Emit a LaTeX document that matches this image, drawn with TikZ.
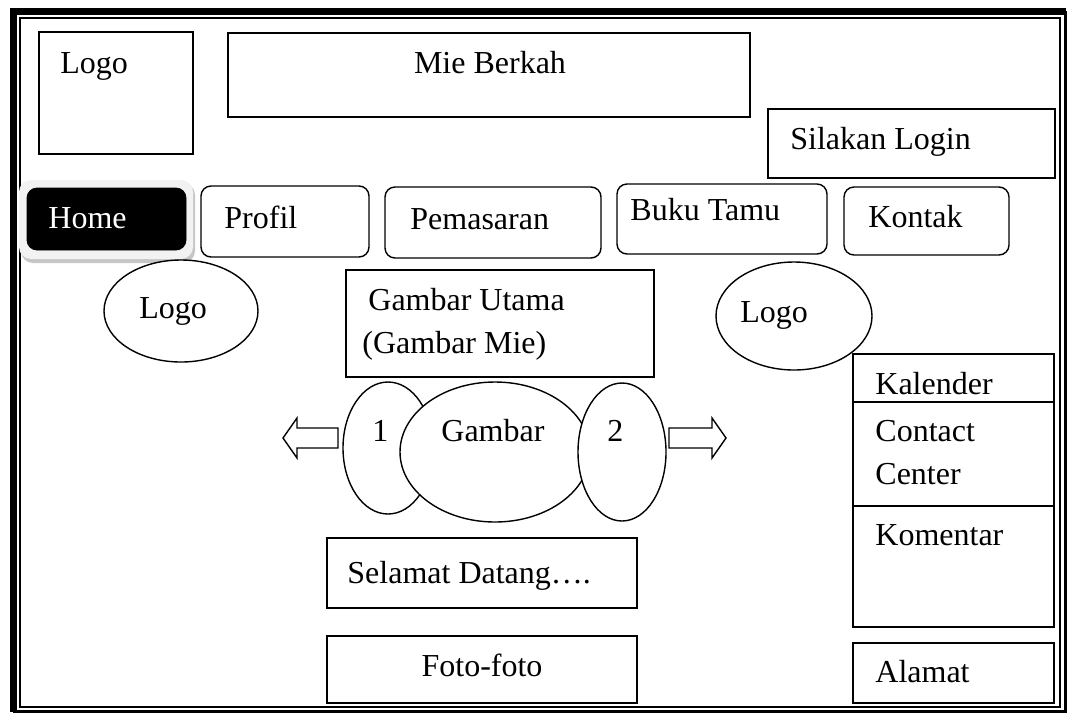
\documentclass[tikz,border=0pt]{standalone}
\usepackage{fontspec}
\setmainfont{Liberation Serif}
\begin{document}
\begin{tikzpicture}[x=0.5pt,y=-0.5pt,
  box/.style={draw, fill=white, line width=0.7pt},
  navbox/.style={draw, fill=white, line width=0.7pt, rounded corners=5pt},
  txt/.style={anchor=base west, inner sep=0pt, font=\fontsize{16}{21}\selectfont},
  ctxt/.style={txt, anchor=base}]

\useasboundingbox (0,0) rectangle (1069,713);

% page frame
\draw [line width=0.75pt] (20,18) rectangle (1060,707);
\draw [line width=1.5pt] (1065,11) -- (1065,711) -- (13,711);
\draw [line width=3.5pt] (13,712) -- (13,11.5) -- (1066,11.5);

% header
\draw [box] (39,32) rectangle (193,154);
\draw [box] (228,33) rectangle (750,117);
\draw [box] (768,109) rectangle (1055,178);
\draw (60,73) node [txt] (logoA) {Logo};
\draw (490,73) node [ctxt] (title) {Mie Berkah};
\draw (790,149) node [txt] (login) {Silakan Login};

% menu
\draw [rounded corners=6pt, fill=gray!45, draw=none] (21,183) rectangle (195,263);
\draw [rounded corners=6pt, fill=gray!10, draw=none] (19,180) rectangle (193,259);
\draw [rounded corners=5pt, fill=black] (27,188) rectangle (186,250);
\draw [navbox] (201,186) rectangle (369,257);
\draw [navbox] (385,187) rectangle (601,258);
\draw [navbox] (617,184) rectangle (827,254);
\draw [navbox] (844,187) rectangle (1009,255);
\draw (48,228) node [txt, text=white] (home) {Home};
\draw (224,228) node [txt] (profil) {Profil};
\draw (410,229) node [txt] (pemasaran) {Pemasaran};
\draw (630,220) node [txt] (bukutamu) {Buku Tamu};
\draw (868,227) node [txt] (kontak) {Kontak};

% logos and main picture
\draw [box] (181,311) ellipse [x radius=38.5pt, y radius=25.5pt];
\draw [box] (794,316) ellipse [x radius=39pt, y radius=27pt];
\draw [box] (346,270) rectangle (654,377);
\draw (139,318) node [txt] (logoB) {Logo};
\draw (740,322) node [txt] (logoC) {Logo};
\draw (368,310) node [txt] (utamaA) {Gambar Utama};
\draw (362,353) node [txt] (utamaB) {(Gambar Mie)};

% slider
\draw [box] (388,448) ellipse [x radius=22.5pt, y radius=33pt];
\draw [box] (495,452) ellipse [x radius=47.5pt, y radius=35pt];
\draw [box] (622,452) ellipse [x radius=22pt, y radius=34.5pt];
\draw [box] (338,428) -- (297,428) -- (297,418) -- (283,438) -- (297,458) -- (297,448) -- (338,448) -- cycle;
\draw [box] (669,428) -- (712,428) -- (712,418) -- (726,438) -- (712,458) -- (712,448) -- (669,448) -- cycle;
\draw (372,441) node [txt] (satu) {1};
\draw (441,441) node [txt] (gambar) {Gambar};
\draw (607,441) node [txt] (dua) {2};

% content
\draw [box] (327,538) rectangle (637,608);
\draw [box] (327,636) rectangle (637,703);
\draw (347,583) node [txt] (welcome) {Selamat Datang….};
\draw (482,676) node [ctxt] (foto) {Foto-foto};

% side bar
\draw [box] (853,354) rectangle (1054,402);
\draw [box] (853,402) rectangle (1054,506);
\draw [box] (853,506) rectangle (1054,627);
\draw [box] (853,643) rectangle (1054,703);
\draw (875,394) node [txt] (kalender) {Kalender};
\draw (875,441) node [txt] (contactA) {Contact};
\draw (875,484) node [txt] (contactB) {Center};
\draw (875,545) node [txt] (komentar) {Komentar};
\draw (875,682) node [txt] (alamat) {Alamat};
\end{tikzpicture}
\end{document}
